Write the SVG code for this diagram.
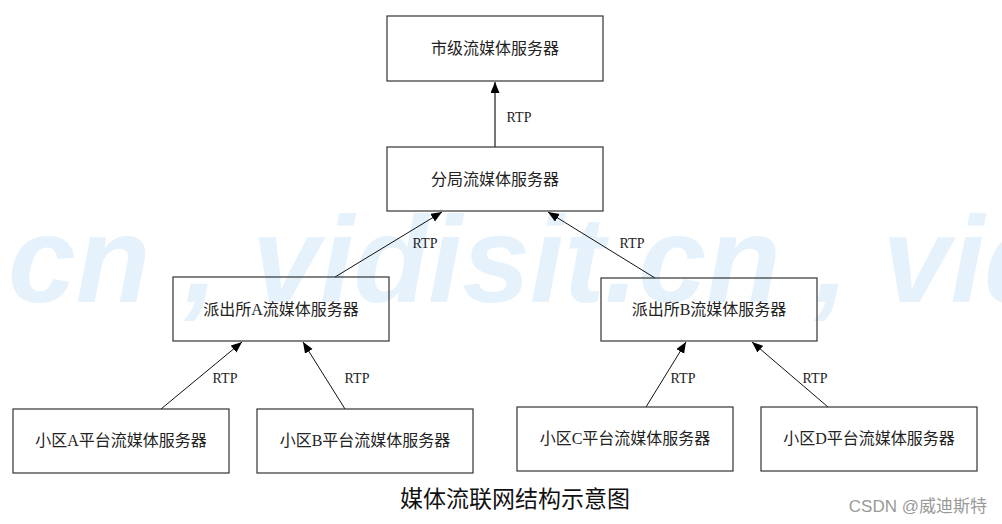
<svg xmlns="http://www.w3.org/2000/svg" width="1002" height="524" viewBox="0 0 1002 524">
<style>
.box{fill:none;stroke:#333;stroke-width:1.2}
.lbl{font-family:"Liberation Serif","Noto Sans CJK SC",serif;font-size:16px;fill:#222;text-anchor:middle}
.rtp{font-family:"Liberation Serif",serif;font-size:14px;fill:#222;text-anchor:middle}
.edge{stroke:#111;stroke-width:1;fill:none;marker-end:url(#arr)}
.wm{font-family:"Liberation Sans",Arial,sans-serif;font-weight:bold;font-style:italic;font-size:122px;fill:#e6f2fb}
</style>
<defs>
<marker id="arr" markerUnits="userSpaceOnUse" markerWidth="12" markerHeight="10" refX="11" refY="4.5" orient="auto">
<path d="M0,0 L11,4.5 L0,9 z" fill="#000"/>
</marker>
</defs>
<rect width="1002" height="524" fill="#fff"/>
<text class="wm" x="8" y="302" xml:space="preserve">cn , vidisit.cn , vid</text>
<g id="connectors">
<line class="edge" x1="495" y1="147" x2="495" y2="82" style="stroke:#555;stroke-width:1.6"/>
<text class="rtp" x="519" y="122">RTP</text>
<line class="edge" x1="335" y1="277" x2="442" y2="212"/>
<text class="rtp" x="425" y="248">RTP</text>
<line class="edge" x1="655" y1="278" x2="548" y2="212"/>
<text class="rtp" x="632" y="248">RTP</text>
<line class="edge" x1="161" y1="409" x2="242" y2="342"/>
<text class="rtp" x="225" y="383">RTP</text>
<line class="edge" x1="345" y1="409" x2="303" y2="342"/>
<text class="rtp" x="357" y="383">RTP</text>
<line class="edge" x1="646" y1="407" x2="686" y2="342"/>
<text class="rtp" x="683" y="383">RTP</text>
<line class="edge" x1="828" y1="407" x2="752" y2="342"/>
<text class="rtp" x="815" y="383">RTP</text>
</g>
<g id="city"><rect class="box" x="387" y="16" width="216" height="65"/><text class="lbl" x="495" y="54">市级流媒体服务器</text></g>
<g id="branch"><rect class="box" x="387" y="147" width="216" height="64"/><text class="lbl" x="495" y="185">分局流媒体服务器</text></g>
<g id="stationA"><rect class="box" x="173" y="277" width="216" height="64"/><text class="lbl" x="281" y="315">派出所A流媒体服务器</text></g>
<g id="stationB"><rect class="box" x="601" y="278" width="216" height="63"/><text class="lbl" x="709" y="315">派出所B流媒体服务器</text></g>
<g id="areaA"><rect class="box" x="13" y="409" width="216" height="64"/><text class="lbl" x="121" y="446">小区A平台流媒体服务器</text></g>
<g id="areaB"><rect class="box" x="257" y="409" width="216" height="64"/><text class="lbl" x="365" y="446">小区B平台流媒体服务器</text></g>
<g id="areaC"><rect class="box" x="517" y="407" width="216" height="64"/><text class="lbl" x="625" y="444">小区C平台流媒体服务器</text></g>
<g id="areaD"><rect class="box" x="761" y="407" width="216" height="64"/><text class="lbl" x="869" y="444">小区D平台流媒体服务器</text></g>
<text x="515" y="507" style="font-family:'Liberation Serif','Noto Sans CJK SC',serif;font-size:23px;fill:#111;text-anchor:middle">媒体流联网结构示意图</text>
<text x="987" y="512" style="font-family:'Liberation Sans','Noto Sans CJK SC',sans-serif;font-size:17px;fill:#999;text-anchor:end">CSDN @威迪斯特</text>
</svg>
